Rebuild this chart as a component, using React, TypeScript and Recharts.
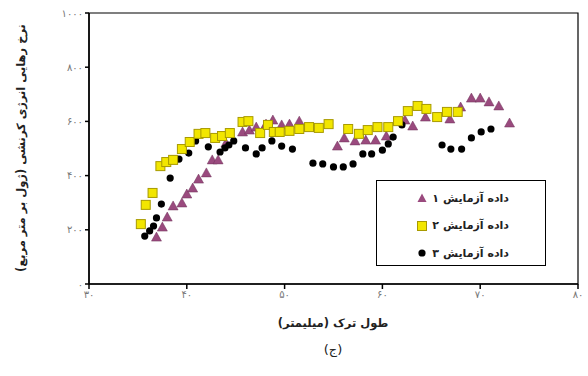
import React from 'react';
import { ScatterChart, Scatter, XAxis, YAxis, ReferenceArea } from 'recharts';

const xTicks = [30, 40, 50, 60, 70, 80];
const yTicks = [0, 200, 400, 600, 800, 1000];

const seriesNames = ['داده  آزمایش ۱', 'داده  آزمایش ۲', 'داده  آزمایش ۳'];

const test1: [number, number][] = [
  [36.9, 173], [37.5, 210], [38.0, 247], [38.6, 288], [39.5, 299], [40.0, 332], [40.6, 354],
  [41.2, 387], [42.0, 410], [42.6, 458], [43.2, 458], [44.0, 520], [45.7, 561], [46.4, 568],
  [47.1, 579], [48.1, 590], [48.8, 605], [49.7, 587], [50.5, 590], [51.5, 601], [55.4, 509],
  [56.1, 539], [57.2, 528], [58.3, 531], [59.3, 531], [60.4, 546], [62.3, 605], [63.1, 583],
  [64.4, 616], [66.9, 609], [68.0, 653], [69.1, 686], [70.0, 686], [70.9, 672], [71.9, 657],
  [73.0, 594],
];

const test2: [number, number][] = [
  [35.3, 221], [35.8, 292], [36.5, 336], [37.3, 435], [37.9, 450], [38.6, 458], [39.5, 498],
  [40.3, 524], [41.2, 554], [41.9, 557], [42.9, 539], [43.6, 546], [44.4, 557], [45.7, 598],
  [46.3, 601], [47.5, 557], [48.3, 587], [48.9, 561], [49.5, 561], [50.5, 565], [51.5, 572],
  [52.5, 579], [53.5, 576], [54.5, 590], [56.5, 572], [57.6, 554], [58.5, 568], [59.5, 579],
  [60.6, 579], [61.6, 601], [62.6, 638], [63.6, 657], [64.5, 646], [65.6, 616], [66.6, 635],
  [67.7, 635],
];

const test3: [number, number][] = [
  [35.7, 177], [36.2, 196], [36.6, 214], [36.9, 244], [37.4, 295], [38.3, 391], [39.2, 461],
  [40.2, 483], [40.9, 528], [42.2, 506], [43.4, 487], [43.9, 502], [44.3, 513], [44.8, 528],
  [46.0, 502], [47.1, 480], [47.7, 502], [48.7, 528], [49.7, 509], [50.8, 498], [52.9, 446],
  [53.9, 443], [55.0, 432], [56.0, 432], [57.0, 443], [58.0, 480], [58.9, 480], [60.0, 494],
  [60.6, 517], [61.1, 542], [62.0, 587], [66.1, 513], [67.0, 498], [68.1, 498], [69.1, 539],
  [70.1, 561], [71.1, 572],
];

const toObjs = (arr: [number, number][]) => arr.map(([x, y]) => ({ x, y }));

const toFa = (n: number | string) => String(n).replace(/\d/g, (d) => '۰۱۲۳۴۵۶۷۸۹'[+d]);

const TRI = '#9a4a7e';
const SQ = '#f2e600';
const SQS = '#a89a00';

const Triangle = (p: any) => {
  const { cx, cy } = p;
  const s = 5;
  return (
    <polygon
      points={`${cx},${cy - s} ${cx - s},${cy + s * 0.8} ${cx + s},${cy + s * 0.8}`}
      fill={TRI}
      stroke="#6e3358"
      strokeWidth={0.5}
    />
  );
};
const Square = (p: any) => {
  const { cx, cy } = p;
  return <rect x={cx - 4.5} y={cy - 4.5} width={9} height={9} fill={SQ} stroke={SQS} strokeWidth={1} />;
};
const Dot = (p: any) => {
  const { cx, cy } = p;
  return <circle cx={cx} cy={cy} r={3.6} fill="#000" />;
};

const fontFam = '"DejaVu Sans", sans-serif';

export default function App() {
  return (
    <div style={{ position: 'absolute', left: 0, top: 0, width: 588, height: 376, background: '#fff', fontFamily: fontFam }}>
      <ScatterChart width={588} height={376} margin={{ top: 13, right: 10, left: 0, bottom: 0 }}>
        <XAxis
          type="number"
          dataKey="x"
          domain={[30, 80]}
          ticks={xTicks}
          allowDataOverflow
          height={92}
          axisLine={{ stroke: '#000', strokeWidth: 1.5 }}
          tickLine={{ stroke: '#000', strokeWidth: 1.5 }}
          tickSize={5}
          tick={{ fill: '#777', fontSize: 10, fontFamily: fontFam }}
          tickFormatter={(v) => toFa(v)}
        />
        <YAxis
          type="number"
          dataKey="y"
          domain={[0, 1000]}
          ticks={yTicks}
          allowDataOverflow
          width={89}
          axisLine={{ stroke: '#000', strokeWidth: 1.5 }}
          tickLine={{ stroke: '#000', strokeWidth: 1.5 }}
          tickSize={4}
          tick={{ fill: '#777', fontSize: 10, fontFamily: fontFam }}
          tickFormatter={(v) => toFa(v)}
        />
        <ReferenceArea x1={30} x2={80} y1={0} y2={1000} fill="none" stroke="#000" strokeWidth={1.2} ifOverflow="visible" />
        <Scatter name={seriesNames[0]} data={toObjs(test1)} shape={Triangle} isAnimationActive={false} />
        <Scatter name={seriesNames[2]} data={toObjs(test3)} shape={Dot} isAnimationActive={false} />
        <Scatter name={seriesNames[1]} data={toObjs(test2)} shape={Square} isAnimationActive={false} />
      </ScatterChart>

      {/* Legend */}
      <div
        style={{
          position: 'absolute',
          left: 376,
          top: 180,
          width: 170,
          height: 86,
          border: '1px solid #000',
          boxSizing: 'border-box',
          background: '#fff',
        }}
      >
        {[0, 1, 2].map((i) => (
          <div
            key={i}
            style={{
              position: 'absolute',
              left: 40,
              top: 9 + i * 27.5,
              width: 92,
              height: 16,
              display: 'flex',
              alignItems: 'center',
              justifyContent: 'flex-end',
              gap: 5,
            }}
          >
            <svg width={10} height={10} style={{ flex: 'none' }}>
              {i === 0 && <polygon points="5,0.5 0.5,9 9.5,9" fill={TRI} />}
              {i === 1 && <rect x={0.5} y={0.5} width={9} height={9} fill={SQ} stroke={SQS} />}
              {i === 2 && <circle cx={5} cy={5} r={3.6} fill="#000" />}
            </svg>
            <span dir="rtl" style={{ fontSize: 11, fontWeight: 'bold', color: '#222', whiteSpace: 'nowrap' }}>
              {seriesNames[i]}
            </span>
          </div>
        ))}
      </div>

      {/* X axis title */}
      <div
        dir="rtl"
        style={{
          position: 'absolute',
          left: 233,
          width: 200,
          top: 316,
          textAlign: 'center',
          fontSize: 11.5,
          fontWeight: 'bold',
          color: '#222',
        }}
      >
        طول ترک (میلیمتر)
      </div>

      {/* Caption */}
      <div
        style={{
          position: 'absolute',
          left: 283,
          width: 100,
          top: 342,
          textAlign: 'center',
          fontSize: 13,
          color: '#222',
        }}
      >
        (ج)
      </div>

      {/* Y axis title */}
      <div
        dir="rtl"
        style={{
          position: 'absolute',
          left: 22 - 140,
          top: 148 - 8,
          width: 280,
          height: 16,
          textAlign: 'center',
          fontSize: 11.5,
          fontWeight: 'bold',
          color: '#222',
          transform: 'rotate(-90deg)',
          whiteSpace: 'nowrap',
        }}
      >
        نرخ رهایی انرژی کرنشی (ژول بر متر مربع)
      </div>
    </div>
  );
}
